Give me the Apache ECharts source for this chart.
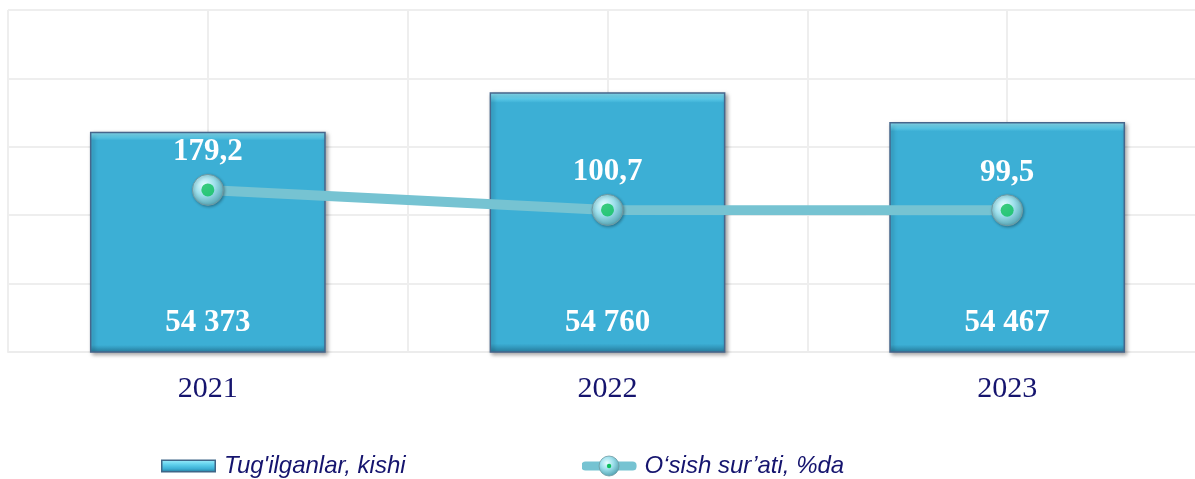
<!DOCTYPE html>
<html>
<head>
<meta charset="utf-8">
<script src="https://cdn.jsdelivr.net/npm/echarts@6/dist/echarts.min.js"></script>
<style>
html,body{margin:0;padding:0;background:#fff;overflow:hidden;}
#chart{width:1207px;height:479px;}
</style>
</head>
<body>
<div id="chart"></div>
<script>
const categories = ['2021', '2022', '2023'];
const births = [54373, 54760, 54467];
const growthRate = [179.2, 100.7, 99.5];
const seriesNames = ["Tug'ilganlar, kishi", "O\u2018sish sur\u2019ati, %da"];

const chart = echarts.init(document.getElementById('chart'));
const navy = '#15146e';
const serif = '"Liberation Serif", "Times New Roman", serif';

const barFill = new echarts.graphic.LinearGradient(0, 0, 0, 1, [
  {offset: 0, color: '#92e6f8'},
  {offset: 0.025, color: '#5ccbea'},
  {offset: 0.04, color: '#3cafd5'},
  {offset: 0.965, color: '#3cafd5'},
  {offset: 0.985, color: '#2f90b3'},
  {offset: 1, color: '#2a7fa0'}
]);
const markerFill = new echarts.graphic.RadialGradient(0.4, 0.35, 0.7, [
  {offset: 0, color: '#e6fcff'},
  {offset: 0.45, color: '#9ee0ec'},
  {offset: 1, color: '#4e9fae'}
]);

function svgIcon(svg) {
  return 'image://data:image/svg+xml;charset=utf-8,' + encodeURIComponent(svg);
}
const barIcon = svgIcon(
  '<svg xmlns="http://www.w3.org/2000/svg" width="55" height="22" viewBox="0 0 55 22">' +
  '<defs><linearGradient id="g" x1="0" y1="0" x2="0" y2="1">' +
  '<stop offset="0" stop-color="#9aeafa"/><stop offset="0.35" stop-color="#62d2ee"/>' +
  '<stop offset="0.75" stop-color="#3cafd5"/><stop offset="1" stop-color="#2a7fa0"/></linearGradient></defs>' +
  '<rect x="0.75" y="5.25" width="53.5" height="11.5" fill="url(#g)" stroke="#3f6688" stroke-width="1.5"/>' +
  '</svg>');
const lineIcon = svgIcon(
  '<svg xmlns="http://www.w3.org/2000/svg" width="55" height="22" viewBox="0 0 55 22">' +
  '<defs><radialGradient id="r" cx="0.4" cy="0.35" r="0.7">' +
  '<stop offset="0" stop-color="#e6fcff"/><stop offset="0.45" stop-color="#9ee0ec"/><stop offset="1" stop-color="#4e9fae"/></radialGradient></defs>' +
  '<line x1="4" y1="11" x2="51" y2="11" stroke="#76c3d2" stroke-width="9" stroke-linecap="round"/>' +
  '<circle cx="27.5" cy="11" r="10" fill="url(#r)" stroke="#6f9aa3" stroke-width="0.8"/>' +
  '<circle cx="27.5" cy="11" r="2.2" fill="#0cbf5c"/>' +
  '</svg>');

chart.setOption({
  animation: false,
  grid: {left: 8, right: 0, top: 10, bottom: 127},
  legend: {
    data: [{name: seriesNames[0], icon: barIcon}, {name: seriesNames[1], icon: lineIcon}],
    left: 161, top: 454, padding: 0,
    itemWidth: 55, itemHeight: 22,
    itemGap: 176,
    textStyle: {fontFamily: '"Liberation Sans", Arial, sans-serif', fontStyle: 'italic', fontSize: 24, color: navy, padding: [0,0,0,3]}
  },
  xAxis: [
    {
      type: 'category', data: categories, boundaryGap: true,
      axisLine: {show: true, onZero: false, lineStyle: {color: '#ececec', width: 2}},
      axisTick: {show: false},
      splitLine: {show: false},
      axisLabel: {fontFamily: serif, fontSize: 30, color: navy, margin: 22}
    },
    {
      type: 'value', min: 0, max: 6, interval: 1, position: 'top',
      axisLine: {show: false}, axisTick: {show: false}, axisLabel: {show: false},
      splitLine: {show: true, lineStyle: {color: '#eeeeee', width: 2}}
    }
  ],
  yAxis: [
    {type: 'value', min: 52206, max: 55569, show: false, splitLine: {show: false}},
    {type: 'value', min: -456, max: 884, show: false, splitLine: {show: false}},
    {
      type: 'value', min: 0, max: 5, interval: 1,
      axisLine: {show: false}, axisTick: {show: false}, axisLabel: {show: false},
      splitLine: {show: true, lineStyle: {color: '#eeeeee', width: 2}}
    }
  ],
  series: [
    {
      name: seriesNames[0], type: 'bar', data: births, xAxisIndex: 0, yAxisIndex: 0,
      barWidth: '59%',
      itemStyle: {
        color: barFill, borderColor: '#46668c', borderWidth: 1.5,
        shadowBlur: 4, shadowOffsetX: 2, shadowOffsetY: 2, shadowColor: 'rgba(0,0,0,0.35)'
      },
      label: {
        show: true, position: 'insideBottom', distance: 14,
        fontFamily: serif, fontWeight: 'bold', fontSize: 31, color: '#ffffff',
        formatter: p => String(p.value).replace(/\B(?=(\d{3})+(?!\d))/g, ' ')
      },
      z: 2
    },
    {
      name: seriesNames[1], type: 'line', data: growthRate, xAxisIndex: 0, yAxisIndex: 1,
      symbol: 'circle', symbolSize: 31,
      lineStyle: {color: '#76c3d2', width: 10},
      itemStyle: {color: markerFill, borderColor: '#6f9aa3', borderWidth: 1,
        shadowBlur: 3, shadowColor: 'rgba(0,0,0,0.3)', shadowOffsetX: 1, shadowOffsetY: 1},
      label: {
        show: true, position: 'top', distance: 6,
        fontFamily: serif, fontWeight: 'bold', fontSize: 31, color: '#ffffff',
        formatter: p => String(p.value).replace('.', ',')
      },
      z: 3
    },
    {
      name: 'dot', type: 'scatter', data: growthRate, xAxisIndex: 0, yAxisIndex: 1,
      symbol: 'circle', symbolSize: 13, itemStyle: {color: '#0cbf5c'},
      silent: true, z: 4
    }
  ]
});
</script>
</body>
</html>
